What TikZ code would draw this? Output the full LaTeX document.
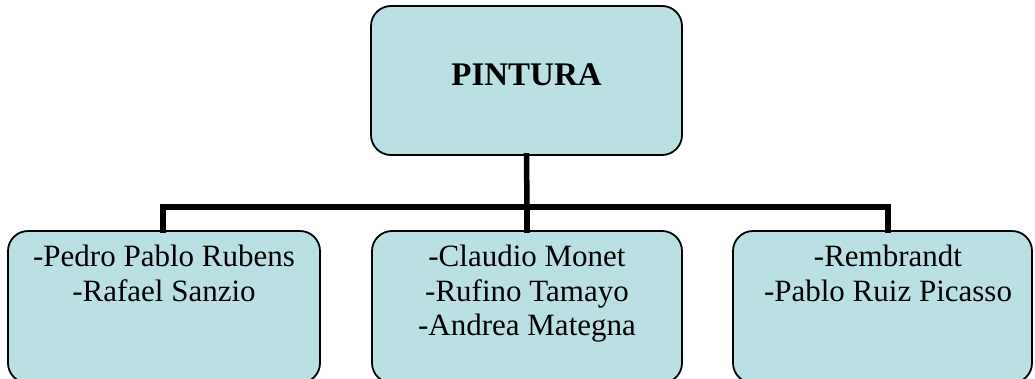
\documentclass[tikz,border=0pt]{standalone}
\usepackage{fontspec}
\setmainfont{Liberation Serif}
\definecolor{boxfill}{HTML}{BBE0E3}
\begin{document}
\begin{tikzpicture}[x=1pt,y=1pt,
  box/.style={draw=black, line width=1.8pt, fill=boxfill, rounded corners=20pt, inner sep=0pt},
  txt/.style={anchor=north, inner sep=0pt, align=center, font=\fontsize{31}{34.5}\selectfont},
  conn/.style={draw=black, line width=5.5pt, line join=miter, line cap=rect}]
\useasboundingbox (0,0) rectangle (1035,-378);
\begin{scope}
\clip (0,0) rectangle (1035,-378);
% top box
\node[box, minimum width=311pt, minimum height=149pt, text depth=11pt,
      font=\fontsize{33}{36}\selectfont\bfseries] (top) at (526.5,-80.5) {PINTURA};
% bottom boxes
\node[box, minimum width=312pt, minimum height=152pt] (lbox) at (164,-307) {};
\node[box, minimum width=310pt, minimum height=152pt] (mbox) at (527,-307) {};
\node[box, minimum width=299pt, minimum height=152pt] (rbox) at (882.5,-307) {};
% texts
\node[txt] (ltxt) at ([yshift=-15pt]lbox.north) {-Pedro Pablo Rubens\\-Rafael Sanzio};
\node[txt] (mtxt) at ([yshift=-15pt]mbox.north) {-Claudio Monet\\-Rufino Tamayo\\-Andrea Mategna};
\node[txt] (rtxt) at ([xshift=5.5pt,yshift=-15pt]rbox.north) {-Rembrandt\\-Pablo Ruiz Picasso};
% connectors
\coordinate (hub) at (527,-207);
\coordinate (lj) at (163,-207);
\coordinate (rj) at (888,-207);
\draw[conn] (top.south) -- (hub);
\draw[conn] (lj) -- (rj);
\draw[conn] (lj) -- (lj |- lbox.north);
\draw[conn] (hub) -- (mbox.north);
\draw[conn] (rj) -- (rj |- rbox.north);
\end{scope}
\end{tikzpicture}
\end{document}
